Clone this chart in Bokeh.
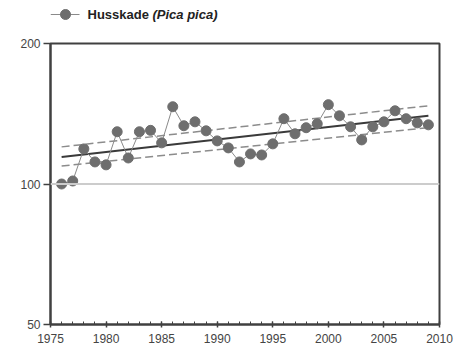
from bokeh.plotting import figure
from bokeh.layouts import column
from bokeh.models import Range1d, FixedTicker, Span, BasicTickFormatter
from bokeh.core.properties import value
from bokeh.embed import file_html
from bokeh.resources import INLINE

years = list(range(1976, 2010))
index = [100.0, 101.5, 118.9, 111.5, 109.9, 129.4, 113.7, 129.4, 130.3, 122.5,
         146.4, 133.3, 135.9, 130.0, 123.7, 119.5, 111.5, 116.0, 115.4, 121.9,
         138.0, 128.1, 132.0, 134.6, 147.9, 140.0, 132.6, 124.3, 132.6, 135.9,
         143.5, 138.0, 135.2, 133.9]

trend_years = [1976, 2009]
trend = [114.3, 140.0]
upper = [120.1, 147.1]
lower = [109.3, 132.1]

x_ticks = [1975, 1980, 1985, 1990, 1995, 2000, 2005, 2010]
y_ticks = [50, 100, 200]
baseline = 100
species = "Husskade"
latin = "(Pica pica)"

FONT = "Liberation Sans"
PT_COLOR = "#6e6e6e"
LINE_COLOR = "#8a8a8a"

W = 458
FRAME_W = 389   # 458 - 50 (left border) - 19 (right border)
HH = 28

# ---- legend header: its frame is aligned with the chart frame; pixel units ----
hdr = figure(width=W, height=HH, x_range=Range1d(0, FRAME_W),
             y_range=Range1d(0, HH), output_backend="svg",
             toolbar_location=None, min_border_left=50, min_border_right=19,
             min_border_top=0, min_border_bottom=0)
hdr.axis.visible = False
hdr.grid.visible = False
hdr.outline_line_color = None
hdr.line([0, 29], [14, 14], line_color=LINE_COLOR, line_width=1)
hdr.scatter([15], [14], size=10, fill_color=PT_COLOR, line_color=PT_COLOR)
hdr.text([37], [14], text=[species], text_font=value(FONT),
         text_font_size="13px", text_font_style="bold",
         text_color="#222222", text_baseline="middle")
hdr.text([102], [14], text=[latin], text_font=value(FONT),
         text_font_size="13px", text_font_style="bold italic",
         text_color="#222222", text_baseline="middle")

# ---- main chart ----
p = figure(width=W, height=326, x_range=Range1d(1975, 2010),
           y_range=Range1d(50, 200), y_axis_type="log",
           output_backend="svg", toolbar_location=None,
           min_border_left=50, min_border_top=15, min_border_right=19,
           min_border_bottom=30)
p.xgrid.visible = False
p.ygrid.visible = False
p.outline_line_color = "#404040"
p.outline_line_width = 2

p.add_layout(Span(location=baseline, dimension="width", line_color="#cccccc",
                  line_width=2))

p.line(trend_years, upper, line_color="#8c8c8c", line_width=1.5, line_dash="8 4")
p.line(trend_years, lower, line_color="#8c8c8c", line_width=1.5, line_dash="8 4")
p.line(trend_years, trend, line_color="#3a3a3a", line_width=2)

p.line(years, index, line_color=LINE_COLOR, line_width=1)
p.scatter(years, index, size=10, fill_color=PT_COLOR, line_color=PT_COLOR)

xa = p.xaxis[0]
xa.ticker = FixedTicker(ticks=x_ticks, minor_ticks=list(range(1975, 2011)))
xa.major_tick_in = 3
xa.major_tick_out = 3
xa.minor_tick_in = 3
xa.minor_tick_out = 0
xa.major_label_standoff = 6
ya = p.yaxis[0]
ya.ticker = FixedTicker(ticks=y_ticks, minor_ticks=[])
ya.formatter = BasicTickFormatter()
ya.major_tick_in = 0
ya.major_tick_out = 7
ya.major_label_standoff = 3
for ax in (xa, ya):
    ax.axis_line_color = "#404040"
    ax.axis_line_width = 2
    ax.major_tick_line_color = "#404040"
    ax.major_tick_line_width = 1.5
    ax.minor_tick_line_color = "#404040"
    ax.major_label_text_font = FONT
    ax.major_label_text_font_size = "12px"
    ax.major_label_text_color = "#444444"

layout = column(hdr, p, spacing=0)
open("out.html", "w").write(file_html(layout, INLINE))
